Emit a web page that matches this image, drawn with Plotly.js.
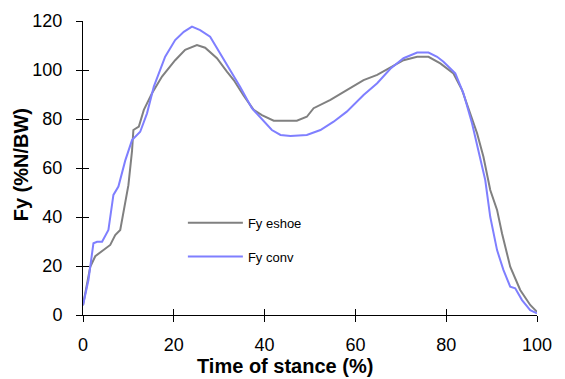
<!DOCTYPE html>
<html>
<head>
<meta charset="utf-8">
<script src="https://cdn.plot.ly/plotly-3.0.1.min.js"></script>
<style>html,body{margin:0;padding:0;background:#fff;}#chart{width:565px;height:379px;}</style>
</head>
<body>
<div id="chart"></div>
<script>
const eshoeX = [0,1.6,2.7,4.9,6,7.1,8.2,10,10.8,11.1,12.3,13.4,15.2,17.4,20.3,22.5,25.1,26.9,29.5,31.7,33.2,35.4,37.6,39.4,42,47.1,49.3,50.8,54.5,58.1,61.8,64.8,67.7,70.6,73.6,76.1,78.7,81.6,83.5,85.3,86.8,88.2,89.7,91.2,92.3,94.1,96.3,98.5,100];
const eshoeY = [4,19.7,24,27.2,28.6,32.6,34.7,53,67,75.5,76.9,83.7,90.5,97.3,104,108.2,110.2,109.1,104.8,99.3,95.9,89.5,83.7,81.6,79.3,79.3,80.9,84.4,87.8,91.8,95.9,98,101,104,105.4,105.4,102.7,98.6,91.8,82.3,74.2,64.6,51,42.9,33.3,19.7,10.2,4.1,1.3];
const convX = [0,1.2,2.3,3.1,4.2,5.6,6.7,7.8,9.3,10.8,12.6,14.1,15.6,18.1,20.3,22.2,24,25.8,28,30.2,32.4,34.6,37.2,39.8,41.6,43.5,45.7,49.3,52.3,55.2,58.1,61.8,64.8,67.7,70.6,73.6,76.1,78,79.4,82,83.8,85.7,87.1,88.6,89.7,91.2,92.6,94.1,95.2,96.7,98.5,100];
const convY = [4,14.3,29.3,29.9,29.9,34.7,49,52.4,63,71.4,74.8,82.3,93.2,105.4,112.2,115.6,117.7,116.3,113.6,106.8,99.6,93.2,84.4,78.9,75.5,73.5,73.1,73.5,75.5,78.9,83,89.8,94.6,100.5,104.8,107.1,107.1,105.4,103.4,98.6,90.5,78.2,67.3,55.1,40.1,26.5,18.4,11.6,10.9,6.1,2,0.7];
const seriesNames = ["Fy eshoe","Fy conv"];
const xTicks = [0,20,40,60,80,100];
const yTicks = [0,20,40,60,80,100,120];
const xTitle = "Time of stance (%)";
const yTitle = "Fy (%N/BW)";

const FONT = "Liberation Sans, Arial, sans-serif";
const traces = [
  {x: eshoeX, y: eshoeY, name: seriesNames[0], mode: "lines", legendgroup: "a",
   line: {color: "#808080", width: 2}},
  {x: convX, y: convY, name: seriesNames[1], mode: "lines", legendgroup: "b",
   line: {color: "#7f7fff", width: 2}},
  {x: [], y: [], xaxis: "x2", yaxis: "y2", showlegend: false, hoverinfo: "skip"}
];
const axisCommon = {showgrid: false, zeroline: false, showline: true, linecolor: "#000", linewidth: 1,
  tickcolor: "#000", tickwidth: 1, ticklen: 6, tickfont: {family: FONT, size: 18, color: "#000"}};
const layout = {
  width: 565, height: 379,
  margin: {l: 83, r: 28, t: 21, b: 64},
  paper_bgcolor: "#fff", plot_bgcolor: "#fff",
  showlegend: true,
  legend: {x: 0.22, y: 0.365, xanchor: "left", yanchor: "top", bgcolor: "rgba(0,0,0,0)",
    font: {family: FONT, size: 13, color: "#000"}, traceorder: "grouped", tracegroupgap: 14, itemwidth: 55},
  xaxis: Object.assign({}, axisCommon, {range: [0, 100], tickvals: xTicks, ticks: "outside", ticklabelstandoff: 7}),
  yaxis: Object.assign({}, axisCommon, {range: [0, 120], tickvals: yTicks, ticks: "outside", ticklabelstandoff: 10}),
  xaxis2: Object.assign({}, axisCommon, {range: [0, 100], tickvals: xTicks, ticks: "inside", overlaying: "x", anchor: "y", side: "bottom", showticklabels: false}),
  yaxis2: Object.assign({}, axisCommon, {range: [0, 120], tickvals: yTicks, ticks: "inside", overlaying: "y", anchor: "x", side: "left", showticklabels: false}),
  annotations: [
    {text: "<b>" + xTitle + "</b>", xref: "paper", yref: "paper", x: 0.445, y: -0.175, xanchor: "center", yanchor: "middle",
     showarrow: false, font: {family: FONT, size: 20, color: "#000"}},
    {text: "<b>" + yTitle + "</b>", xref: "paper", yref: "paper", x: -0.136, y: 0.51, xanchor: "center", yanchor: "middle",
     textangle: -90, showarrow: false, font: {family: FONT, size: 20, color: "#000"}}
  ]
};
Plotly.newPlot("chart", traces, layout, {staticPlot: true, displayModeBar: false});
</script>
</body>
</html>
